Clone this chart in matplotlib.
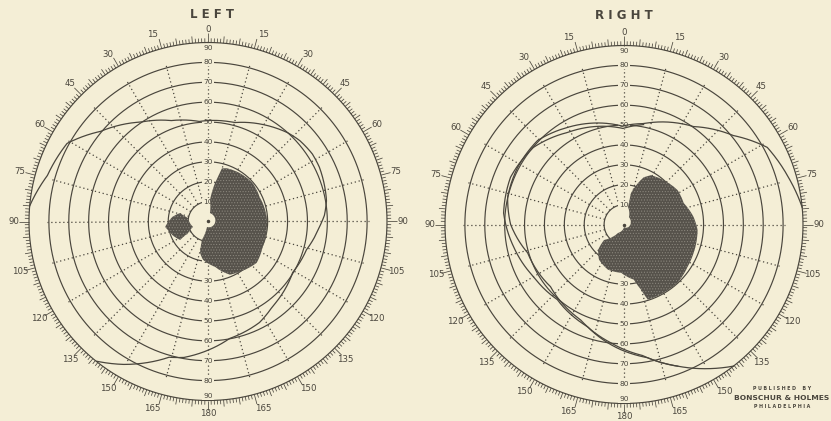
import numpy as np
import matplotlib
matplotlib.use("Agg")
import matplotlib.pyplot as plt

W, H = 831, 421
BG = "#F4EED6"
INK = "#4A463D"
FILL = "#56524B"

ring_values = [10, 20, 30, 40, 50, 60, 70, 80]
meridians = list(range(0, 360, 15))
scale_marks = list(range(0, 360, 15))

# Visual-field readings: meridian (deg, clockwise from top) and eccentricity (deg)
left_field_theta = [275, 286, 299, 310, 326, 340, 355, 15, 31, 42, 48.5, 57, 64, 80, 87,
                    93, 106, 121, 143, 153, 169.5, 190, 196, 210.5, 218.5]
left_field_ecc = [90, 84, 81, 70.5, 60.3, 54, 50.5, 51.5, 56.5, 60, 61.5, 62.5, 62.3, 60.5,
                  58.6, 56, 51.5, 49.7, 53.7, 57, 59.8, 69.4, 71, 83.4, 89.8]

left_scotoma_theta = [14.7, 19.6, 33.4, 49.5, 64.8, 85.6, 98.2, 114.9, 130.3, 147.6, 157.6,
                      171.3, 187.4, 194.3, 198, 190, 13, 5.3, 10.3]
left_scotoma_ecc = [27.6, 28.4, 29.1, 29.6, 28.7, 29.6, 29.8, 30.3, 32.1, 29.9, 28.9,
                    23, 19.4, 16.2, 9.7, 2.8, 4.4, 10.8, 19.6]

left_spot_theta = [262.7, 277.1, 286.9, 279.9, 250.1, 240.1, 236.5, 249.4]
left_spot_ecc = [21.7, 18.1, 14.6, 10.2, 8.0, 11.5, 16.8, 19.2]

right_field_theta = [84.5, 74, 61.7, 50.9, 35.4, 11.1, 359, 329.7, 314.2, 298.3, 283.2,
                     270, 253.6, 229.8, 204.7, 186.7, 172, 159.2, 142.3]
right_field_ecc = [90, 86, 81.8, 70.9, 60.4, 51.7, 49.5, 56.5, 60.6, 60.7, 60.1,
                   57, 50.5, 48.4, 52.6, 59.7, 66.5, 76.2, 90]

right_field2_theta = [11.1, 359.4, 328.4, 310.4, 292.6, 275.4, 258.5, 240, 221.6, 199.8,
                      181.8, 170, 159.2]
right_field2_ecc = [51.2, 48.3, 54.3, 59.8, 61.8, 60.8, 56.6, 52.5, 50.5, 54.5,
                    62.8, 68, 76.2]

right_scotoma_theta = [28.6, 42, 57.4, 70.3, 83.9, 94.3, 112.2, 123.6, 137.3, 149.7, 162.4,
                       165.4, 169.8, 183.5, 199.4, 215.2, 225.6, 232.2, 215.2, 180, 33.7,
                       12.9, 12.5, 18.6, 22.8]
right_scotoma_ecc = [28.2, 29.9, 32, 31.9, 35.2, 37.1, 37.8, 38.4, 39.8, 39.7, 39.6,
                     33.8, 28.2, 24.3, 24.1, 21.7, 18.2, 12.7, 5.2, 1.25, 4.5,
                     9, 16.1, 21.9, 25.8]

plt.rcParams["font.family"] = ["DejaVu Sans"]
plt.rcParams["hatch.linewidth"] = 0.45

fig = plt.figure(figsize=(W / 100, H / 100), dpi=100, facecolor=BG)


def px_axes(cx, cy, r):
    return [(cx - r) / W, 1 - (cy + r) / H, 2 * r / W, 2 * r / H]


def scale_label(a):
    return a if a <= 180 else 360 - a


def smooth_polar(artist, steps=40):
    # let the polar transform bend each segment along theta/r
    artist.get_path()._interpolation_steps = steps


def draw_chart(ax):
    ax.set_theta_zero_location("N")
    ax.set_theta_direction(-1)
    ax.set_ylim(0, 90)
    ax.set_axis_off()
    t = np.radians(np.linspace(0, 360, 721))
    for v in ring_values + [90]:
        ax.plot(t, np.full_like(t, v), color=INK, lw=0.85, clip_on=False, zorder=2)
    for m in meridians:
        ax.plot([np.radians(m)] * 2, [10, 81], color=INK, lw=0.9,
                ls=(0, (1, 2.2)), zorder=1)
    deg = np.arange(360)
    length = np.where(deg % 15 == 0, 5.0, np.where(deg % 5 == 0, 3.4, 2.1))
    ax.vlines(np.radians(deg), 90, 90 + length, colors=INK, lw=0.55,
              clip_on=False, zorder=2)
    offsets = {15: 1.5, 30: 1.0, 150: 1.0, 165: 1.5}
    for a in scale_marks:
        v = scale_label(a)
        off = offsets.get(v, 0.0)
        if 0 < a < 90 or 180 < a < 270:
            ang = a + off
        elif 90 < a < 180 or 270 < a < 360:
            ang = a - off
        else:
            ang = a
        r = 96.5 if a in (0, 180) else 97.8
        ax.text(np.radians(ang), r, str(v), fontsize=6.2, color=INK,
                ha="center", va="center", clip_on=False)
    lab = dict(fontsize=5.4, color=INK, ha="center", va="center", zorder=3,
               bbox=dict(boxstyle="square,pad=0.12", fc=BG, ec="none"))
    for v in ring_values:
        ax.text(0, v, str(v), **lab)
    for v in ring_values[1:]:
        ax.text(np.pi, v, str(v), **lab)
    ax.text(0, 87.3, "90", **lab)
    ax.text(np.pi, 87.8, "90", **lab)
    ax.plot([0], [0], "o", ms=1.5, color=INK, zorder=2)


def shade(ax, theta, ecc):
    th = np.unwrap(np.radians(theta))
    for kw in (dict(facecolor=FILL, edgecolor="none"),
               dict(facecolor="none", edgecolor="#8C887E", hatch="......", lw=0)):
        p, = ax.fill(th, ecc, zorder=4, **kw)
        smooth_polar(p, 10)


def isopter(ax, theta, ecc):
    ln, = ax.plot(np.unwrap(np.radians(theta)), ecc, color=INK, lw=0.9, zorder=5,
                  clip_on=False)
    smooth_polar(ln)


axL = fig.add_axes(px_axes(208, 221.5, 179), projection="polar")
draw_chart(axL)
shade(axL, left_scotoma_theta, left_scotoma_ecc)
shade(axL, left_spot_theta, left_spot_ecc)
isopter(axL, left_field_theta, left_field_ecc)

axR = fig.add_axes(px_axes(624, 224.5, 179), projection="polar")
draw_chart(axR)
shade(axR, right_scotoma_theta, right_scotoma_ecc)
isopter(axR, right_field_theta, right_field_ecc)
isopter(axR, right_field2_theta, right_field2_ecc)

fig.text(212 / W, 1 - 14 / H, "L E F T", fontsize=8.5, weight="bold", color=INK,
         ha="center", va="center")
fig.text(624 / W, 1 - 15.5 / H, "R I G H T", fontsize=8.5, weight="bold", color=INK,
         ha="center", va="center")

fig.text(782 / W, 1 - 389 / H, "P U B L I S H E D    B Y", fontsize=3.4, weight="bold",
         color=INK, ha="center", va="center")
fig.text(782 / W, 1 - 398 / H, "BONSCHUR & HOLMES", fontsize=5.4, weight="bold",
         color=INK, ha="center", va="center")
fig.text(782 / W, 1 - 407 / H, "P H I L A D E L P H I A", fontsize=3.4, weight="bold",
         color=INK, ha="center", va="center")

fig.savefig("out.png", dpi=100, facecolor=BG)
